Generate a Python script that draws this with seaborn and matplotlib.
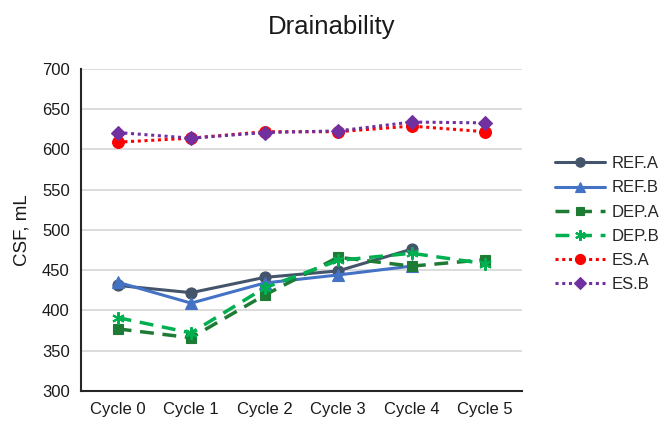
import numpy as np
import pandas as pd
import matplotlib
matplotlib.use("Agg")
import matplotlib.pyplot as plt
import seaborn as sns

cycles = ["Cycle 0", "Cycle 1", "Cycle 2", "Cycle 3", "Cycle 4", "Cycle 5"]
series_names = ["REF.A", "REF.B", "DEP.A", "DEP.B", "ES.A", "ES.B"]
ref_a = [431, 422, 441, 449, 476, np.nan]
ref_b = [435, 409, 434, 444, 455, np.nan]
dep_a = [377, 366, 419, 466, 455, 463]
dep_b = [391, 372, 428, 462, 471, 458]
es_a = [609, 614, 622, 622, 629, 622]
es_b = [621, 614, 621, 623, 634, 633]
y_ticks = [300, 350, 400, 450, 500, 550, 600, 650, 700]

values = [ref_a, ref_b, dep_a, dep_b, es_a, es_b]
df = pd.DataFrame({
    "cycle": np.tile(cycles, len(series_names)),
    "series": np.repeat(series_names, len(cycles)),
    "csf": np.concatenate(values),
})

styles = {
    "REF.A": dict(color="#44546A", ls="-", marker="o", ms=8, lw=2.2),
    "REF.B": dict(color="#4472C4", ls="-", marker="^", ms=8, lw=2.2),
    "DEP.A": dict(color="#1E7B34", ls=(0, (4, 2.5)), marker="s", ms=7.5, lw=2.5),
    "DEP.B": dict(color="#00B050", ls=(0, (4, 2.5)), marker=(6, 2, 0), ms=9, lw=2.5),
    "ES.A": dict(color="#FF0000", ls=(0, (1, 1.2)), marker="o", ms=8.5, lw=2.2),
    "ES.B": dict(color="#7030A0", ls=(0, (1, 1.2)), marker="D", ms=7, lw=2.2),
}

sns.set_theme(style="white")
plt.rcParams["font.family"] = ["Liberation Sans", "DejaVu Sans"]

fig = plt.figure(figsize=(6.63, 4.23), dpi=100)
ax = fig.add_axes([0.122, 0.076, 0.665, 0.761])
ax.set_axisbelow(True)
ax.yaxis.grid(True, color="#D9D9D9", lw=1.3)

df["x"] = df["cycle"].map({c: i for i, c in enumerate(cycles)})
for name in series_names:
    st = styles[name]
    sub = df[df["series"] == name]
    sns.lineplot(data=sub, x="x", y="csf", ax=ax, label=name,
                 color=st["color"], linestyle=st["ls"], linewidth=st["lw"],
                 marker=st["marker"], markersize=st["ms"],
                 markeredgecolor=st["color"], markerfacecolor=st["color"],
                 markeredgewidth=1.5 if name == "DEP.B" else 0.8)

ax.set_xlim(-0.5, 5.5)
ax.set_ylim(300, 700)
ax.set_yticks(y_ticks)
ax.set_xticks(range(len(cycles)))
ax.set_xticklabels(cycles)
ax.tick_params(axis="both", labelsize=12, colors="#1A1A1A", length=0, pad=8)
ax.set_xlabel("")
ax.set_ylabel("CSF, mL", fontsize=13.5, labelpad=8, color="#1A1A1A")
for s in ["top", "right"]:
    ax.spines[s].set_visible(False)
for s in ["left", "bottom"]:
    ax.spines[s].set_color("#262626")
    ax.spines[s].set_linewidth(1.5)

fig.suptitle("Drainability", fontsize=18.5, x=0.5, y=0.965, color="#1A1A1A")

ax.legend_.remove()
handles, labels = ax.get_legend_handles_labels()
fig.legend(handles, labels, loc="center left", bbox_to_anchor=(0.825, 0.47),
           frameon=False, fontsize=12, handlelength=3.0, handletextpad=0.4,
           labelspacing=0.55, borderpad=0, markerscale=0.85)

fig.savefig("out.png", dpi=100)
